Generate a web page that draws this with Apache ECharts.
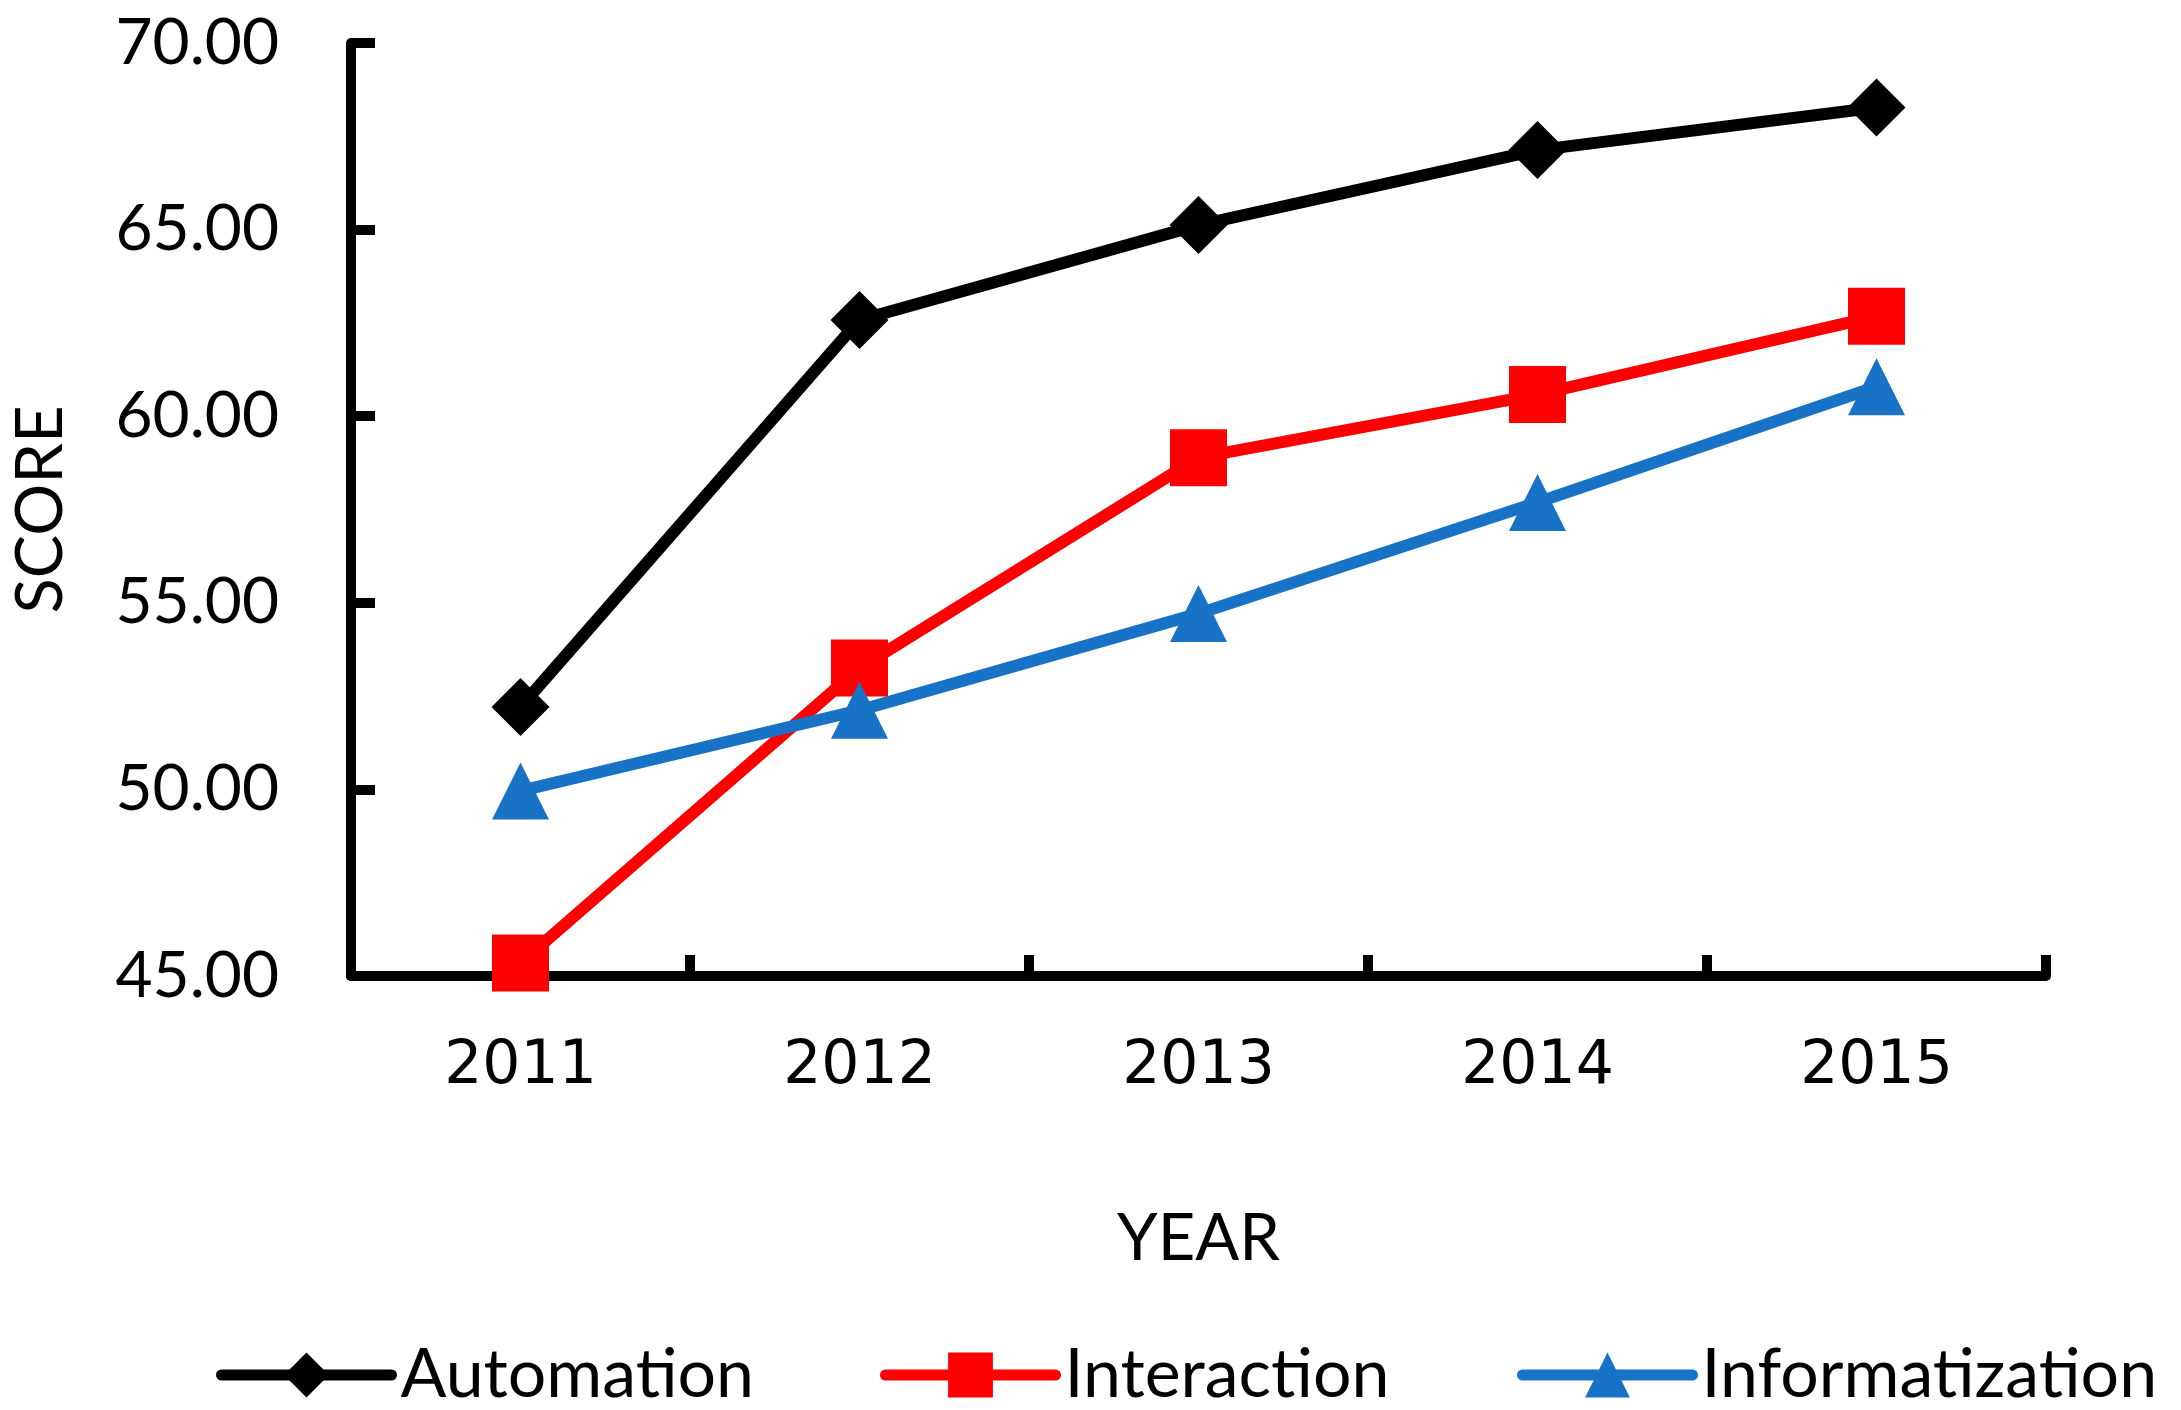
<!DOCTYPE html>
<html>
<head>
<meta charset="utf-8">
<script src="https://cdn.jsdelivr.net/npm/echarts@6/dist/echarts.min.js"></script>
<style>
html,body{margin:0;padding:0;background:#fff;}
#c{width:2181px;height:1410px;}
</style>
</head>
<body>
<div id="c"></div>
<script>
const years = ['2011', '2012', '2013', '2014', '2015'];
const automation = [52.21, 62.58, 65.12, 67.13, 68.27];
const interaction = [45.35, 53.25, 58.89, 60.58, 62.68];
const informatization = [49.96, 52.12, 54.71, 57.69, 60.79];
const yTicks = { min: 45, max: 70, interval: 5 };

const LATO = 'Lato';
const chart = echarts.init(document.getElementById('c'), null, { renderer: 'canvas' });

function legendFor(name, left) {
  return {
    data: [name],
    left: left,
    top: 1341,
    padding: 0,
    itemWidth: 170,
    itemHeight: 56,
    lineStyle: { width: 11, cap: 'round' },
    textStyle: { fontFamily: LATO, fontSize: 68, color: '#000', padding: [0, 0, 0, 4] }
  };
}

chart.setOption({
  animation: false,
  backgroundColor: '#ffffff',
  grid: { left: 351, right: 135, top: 43, bottom: 434, containLabel: false },
  legend: [
    legendFor('Automation', 216),
    legendFor('Interaction', 880),
    legendFor('Informatization', 1517)
  ],
  xAxis: {
    type: 'category',
    data: years,
    boundaryGap: true,
    name: 'YEAR',
    nameLocation: 'middle',
    nameGap: 231,
    nameTextStyle: { fontFamily: LATO, fontSize: 65, color: '#000' },
    axisLine: { show: true, lineStyle: { color: '#000', width: 10 } },
    axisTick: { show: true, inside: true, length: 21, interval: 0, lineStyle: { color: '#000', width: 10 } },
    axisLabel: { margin: 61, fontFamily: 'DejaVu Sans', fontSize: 60, color: '#000' },
    splitLine: { show: false }
  },
  yAxis: {
    type: 'value',
    min: yTicks.min,
    max: yTicks.max,
    interval: yTicks.interval,
    name: 'SCORE',
    nameLocation: 'middle',
    nameGap: 277,
    nameRotate: 90,
    nameTextStyle: { fontFamily: LATO, fontSize: 65, color: '#000' },
    axisLine: { show: true, lineStyle: { color: '#000', width: 10 } },
    axisTick: { show: true, inside: true, length: 24, lineStyle: { color: '#000', width: 10 } },
    axisLabel: { margin: 72, fontFamily: LATO, fontSize: 64, color: '#000', formatter: v => v.toFixed(2) },
    splitLine: { show: false }
  },
  series: [
    {
      name: 'Automation', type: 'line', data: automation,
      symbol: 'diamond', symbolSize: [58, 58],
      lineStyle: { color: '#000000', width: 12 },
      itemStyle: { color: '#000000' }
    },
    {
      name: 'Interaction', type: 'line', data: interaction,
      symbol: 'rect', symbolSize: 57,
      lineStyle: { color: '#FF0000', width: 12 },
      itemStyle: { color: '#FF0000' }
    },
    {
      name: 'Informatization', type: 'line', data: informatization,
      symbol: 'triangle', symbolSize: 57,
      lineStyle: { color: '#1872C6', width: 12 },
      itemStyle: { color: '#1872C6' }
    }
  ]
});
</script>
</body>
</html>
